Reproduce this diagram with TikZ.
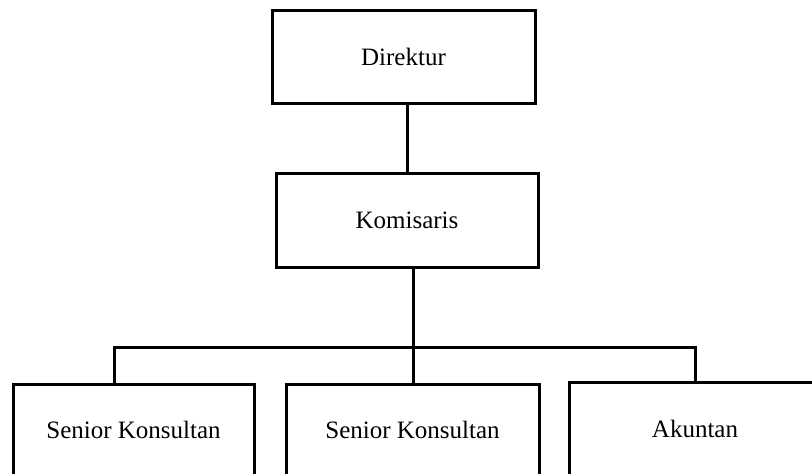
\documentclass[tikz,border=0pt]{standalone}
\usepackage{fontspec}
\setmainfont{Liberation Serif}
\begin{document}
\begin{tikzpicture}[x=1pt,y=-1pt,
  box/.style={draw=black,line width=3pt,fill=white,inner sep=0pt,font=\fontsize{25}{28}\selectfont},
  conn/.style={line width=3pt,draw=black}]
\useasboundingbox (0,0) rectangle (812,474);
\clip (0,0) rectangle (812,474);
\node[box,minimum width=263pt,minimum height=93pt] (dir) at (403.5,56.5) {Direktur};
\node[box,minimum width=262pt,minimum height=94pt] (kom) at (407,220) {Komisaris};
\node[box,minimum width=241pt,minimum height=92pt] (s1) at (133.5,430) {Senior Konsultan};
\node[box,minimum width=253pt,minimum height=92pt] (s2) at (412.5,430) {Senior Konsultan};
\node[box,minimum width=252pt,minimum height=94pt] (ak) at (695,429) {Akuntan};
\coordinate (busL) at (114,347);
\coordinate (busR) at (695,347);
\draw[conn] (dir.south -| 407,0) -- (kom.north -| 407,0);
\draw[conn] (kom.south -| 413,0) -- (s2.north -| 413,0);
\draw[conn,line cap=rect] (busL) -- (busR);
\draw[conn] (busL) -- (s1.north -| busL);
\draw[conn] (busR) -- (ak.north);
\end{tikzpicture}
\end{document}
